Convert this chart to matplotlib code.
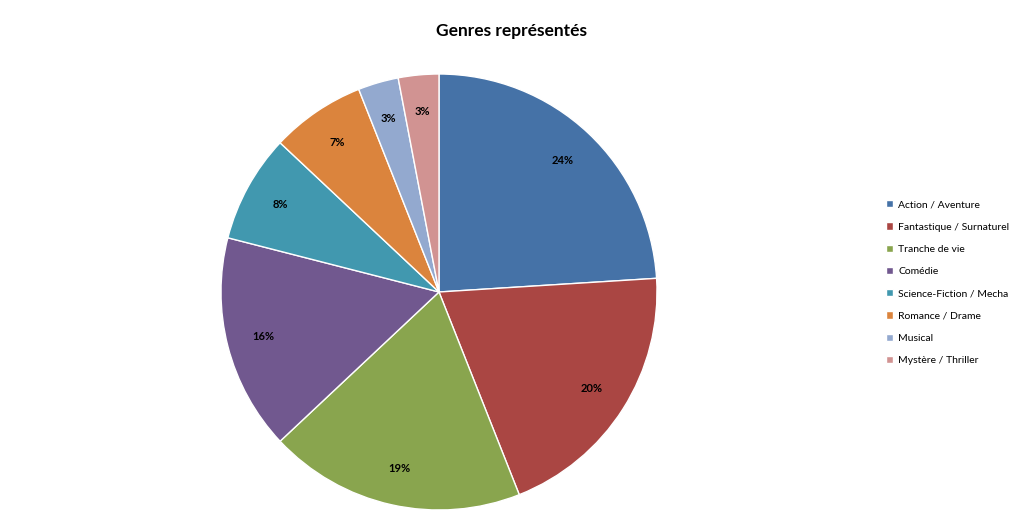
import matplotlib
matplotlib.use("Agg")
import matplotlib.pyplot as plt

plt.rcParams['font.family'] = ['Lato', 'DejaVu Sans']

genres = ["Action / Aventure", "Fantastique / Surnaturel", "Tranche de vie", "Comédie",
          "Science-Fiction / Mecha", "Romance / Drame", "Musical", "Mystère / Thriller"]
shares = [24, 20, 19, 16, 8, 7, 3, 3]
colors = ["#4572A7", "#AA4643", "#89A54E", "#71588F", "#4198AF", "#DB843D", "#93A9CF", "#D19392"]

fig = plt.figure(figsize=(10.24, 5.22), dpi=100)
ax = fig.add_axes([221 / 1024, 12 / 522, 436 / 1024, 436 / 522])

wedges, texts, autotexts = ax.pie(
    shares, colors=colors, startangle=90, counterclock=False, radius=1.25,
    autopct='%d%%', pctdistance=0.83,
    wedgeprops=dict(edgecolor='white', linewidth=1),
    textprops=dict(fontsize=8, fontweight='bold', color='black'))
ax.set_xlim(-1.25, 1.25)
ax.set_ylim(-1.25, 1.25)
ax.set_aspect('equal')

fig.suptitle("Genres représentés", y=0.955, fontsize=12.5, fontweight='bold')

fig.legend(wedges, genres, loc='upper left', bbox_to_anchor=(0.856, 0.635),
           frameon=False, fontsize=7.5, handlelength=0.7, handleheight=0.7,
           labelspacing=1.25, handletextpad=0.5)

fig.savefig("out.png", dpi=100, facecolor='white')
